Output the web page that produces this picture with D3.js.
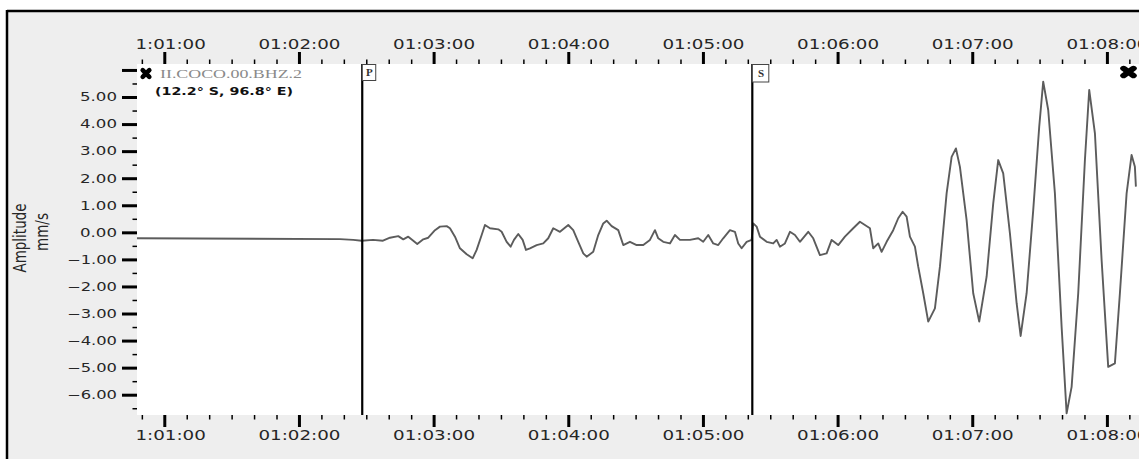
<!DOCTYPE html>
<html>
<head>
<meta charset="utf-8">
<script src="https://cdn.jsdelivr.net/npm/d3@7"></script>
<style>
  html, body { margin: 0; padding: 0; background: #ffffff; }
  svg { display: block; }
</style>
</head>
<body>
<svg id="chart" width="1139" height="459"></svg>
<script>
// ---------- data ----------
// time in seconds after 01:00:00, amplitude in mm/s
const timeSec = [
  47.84, 138.28, 144.2, 147.95, 152.98, 157.44, 160.56, 164.25, 166.48, 168.71,
  170.94, 172.72, 175.39, 177.62, 180.61, 182.83, 185.82, 187.29, 189.52, 191.74,
  194.73, 197.40, 199.18, 201.41, 202.88, 205.11, 208.81, 210.32, 212.55, 214.33,
  215.80, 217.72, 219.68, 221.15, 222.93, 225.91, 228.86, 231.08, 233.31, 236.30,
  240.00, 242.22, 244.45, 246.68, 248.19, 251.13, 253.36, 255.59, 257.10, 259.33,
  262.27, 264.50, 267.48, 270.47, 273.41, 276.39, 278.62, 280.09, 282.32, 285.30,
  287.53, 289.76, 294.21, 297.91, 300.14, 302.37, 304.60, 306.82, 309.05, 312.04,
  314.26, 315.73, 317.25, 319.48, 321.70, 322.42, 323.93, 325.40, 328.39, 331.33,
  332.85, 334.31, 336.54, 338.77, 341.00, 343.22, 346.92, 349.15, 352.13, 355.12,
  357.35, 360.29, 363.27, 366.97, 369.95, 372.18, 374.41, 375.88, 378.11, 379.62,
  381.85, 384.79, 387.02, 388.98, 390.76, 392.23, 394.46, 395.93, 398.16, 400.39,
  403.37, 405.60, 408.58, 410.81, 412.73, 414.51, 417.49, 420.43, 423.11, 426.40,
  429.35, 431.57, 433.80, 436.79, 439.77, 441.56, 444.23, 447.17, 449.84, 451.62,
  453.85, 456.83, 459.82, 462.05, 464.28, 467.22, 470.20, 472.12, 474.66, 477.64,
  480.58, 483.56, 485.79, 488.78, 491.00, 492.47, 492.92
];
const amplitude = [
  -0.22, -0.25, -0.28, -0.31, -0.28, -0.31, -0.20, -0.14, -0.26, -0.16,
  -0.31, -0.43, -0.26, -0.20, 0.08, 0.21, 0.23, 0.15, -0.16, -0.59,
  -0.81, -0.96, -0.65, -0.10, 0.27, 0.15, 0.11, 0.02, -0.35, -0.53,
  -0.28, -0.06, -0.28, -0.65, -0.59, -0.47, -0.41, -0.22, 0.15, 0.02,
  0.27, 0.08, -0.35, -0.78, -0.90, -0.72, -0.10, 0.33, 0.43, 0.23,
  0.08, -0.47, -0.35, -0.47, -0.47, -0.28, 0.08, -0.22, -0.35, -0.41,
  -0.10, -0.28, -0.28, -0.22, -0.35, -0.10, -0.41, -0.47, -0.22, 0.08,
  0.02, -0.41, -0.59, -0.35, -0.28, 0.33, 0.21, -0.16, -0.35, -0.41,
  -0.28, -0.53, -0.41, 0.02, -0.10, -0.35, 0.02, -0.22, -0.84, -0.78,
  -0.28, -0.47, -0.16, 0.15, 0.39, 0.27, 0.15, -0.59, -0.41, -0.72,
  -0.35, 0.08, 0.52, 0.76, 0.58, -0.16, -0.53, -1.27, -2.25, -3.30,
  -2.81, -1.27, 1.44, 2.79, 3.10, 2.42, 0.45, -2.25, -3.30, -1.64,
  1.07, 2.67, 2.18, -0.04, -2.62, -3.83, -2.25, 0.82, 3.90, 5.57,
  4.52, 1.44, -3.49, -6.69, -5.71, -2.25, 2.67, 5.26, 3.66, -1.02,
  -4.97, -4.84, -2.25, 1.44, 2.86, 2.42, 1.69
];
const phaseNames = ["P", "S"];
const phaseTimes = [148.2, 322.0];
const xMajorTicks = [60, 120, 180, 240, 300, 360, 420, 480];
const xTickLabels = ["01:01:00", "01:02:00", "01:03:00", "01:04:00", "01:05:00", "01:06:00", "01:07:00", "01:08:00"];
const yMajorTicks = [-6, -5, -4, -3, -2, -1, 0, 1, 2, 3, 4, 5, 6];
const yTickLabels = ["−6.00", "−5.00", "−4.00", "−3.00", "−2.00", "−1.00", "0.00", "1.00", "2.00", "3.00", "4.00", "5.00", ""];
const stationName = "II.COCO.00.BHZ.2";
const stationCoords = "(12.2° S, 96.8° E)";
const yTitle = ["Amplitude", "mm/s"];

// ---------- layout ----------
const W = 1139, H = 459;
const plot = { left: 137, right: 1139, top: 64, bottom: 415 };
const STRETCH = 1.35;

const svg = d3.select("#chart");

// page background + frame
svg.append("rect").attr("x", 0).attr("y", 0).attr("width", W).attr("height", H).attr("fill", "#ffffff");
svg.append("rect").attr("x", 7).attr("y", 11).attr("width", W - 7).attr("height", H - 11).attr("fill", "#eeeeee");
svg.append("line").attr("x1", 7).attr("x2", W).attr("y1", 11).attr("y2", 11).attr("stroke", "#000").attr("stroke-width", 2.5);
svg.append("line").attr("x1", 7).attr("x2", 7).attr("y1", 10).attr("y2", H).attr("stroke", "#000").attr("stroke-width", 2.5);

// plot area
svg.append("rect").attr("x", plot.left).attr("y", plot.top)
  .attr("width", plot.right - plot.left).attr("height", plot.bottom - plot.top).attr("fill", "#ffffff");

const x = d3.scaleLinear().domain([47.84, 494.3]).range([plot.left, plot.right]);
const y = d3.scaleLinear().domain([-6.75, 6.22]).range([plot.bottom, plot.top]);

const defs = svg.append("defs");
defs.append("clipPath").attr("id", "plotClip").append("rect")
  .attr("x", plot.left).attr("y", plot.top).attr("width", plot.right - plot.left).attr("height", plot.bottom - plot.top);
defs.append("clipPath").attr("id", "xLabClip").append("rect")
  .attr("x", plot.left).attr("y", -1000).attr("width", plot.right - plot.left).attr("height", 2000);

const minorX = d3.range(50, 495, 10).filter(t => t % 60 !== 0);
const minorY = d3.range(-6.5, 6.0, 1);

const labelFor = t => xTickLabels[xMajorTicks.indexOf(t)];

function styleAxis(g, width) {
  g.select(".domain").remove();
  g.selectAll(".tick line").attr("stroke", "#000").attr("stroke-width", width);
}

// top axis
const topMinor = svg.append("g").attr("transform", `translate(0,${plot.top})`)
  .call(d3.axisTop(x).tickValues(minorX).tickSize(4.5).tickFormat(""));
styleAxis(topMinor, 1.5);
const topMajor = svg.append("g").attr("transform", `translate(0,${plot.top})`)
  .call(d3.axisTop(x).tickValues(xMajorTicks).tickSize(12).tickPadding(3).tickFormat(labelFor));
styleAxis(topMajor, 3);

// bottom axis
const botMinor = svg.append("g").attr("transform", `translate(0,${plot.bottom})`)
  .call(d3.axisBottom(x).tickValues(minorX).tickSize(4.5).tickFormat(""));
styleAxis(botMinor, 1.5);
const botMajor = svg.append("g").attr("transform", `translate(0,${plot.bottom})`)
  .call(d3.axisBottom(x).tickValues(xMajorTicks).tickSize(12).tickPadding(3.5).tickFormat(labelFor));
styleAxis(botMajor, 3);

[topMajor, botMajor].forEach(g => {
  g.attr("clip-path", "url(#xLabClip)");
  g.selectAll(".tick text")
    .attr("font-family", "DejaVu Sans").attr("font-size", 13.7).attr("fill", "#262626")
    .attr("textLength", 82).attr("lengthAdjust", "spacingAndGlyphs");
});

// left axis
const leftMinor = svg.append("g").attr("transform", `translate(${plot.left},0)`)
  .call(d3.axisLeft(y).tickValues(minorY).tickSize(4.5).tickFormat(""));
styleAxis(leftMinor, 1.5);
const leftMajor = svg.append("g").attr("transform", `translate(${plot.left},0)`)
  .call(d3.axisLeft(y).tickValues(yMajorTicks).tickSize(15).tickPadding(5)
    .tickFormat(v => yTickLabels[yMajorTicks.indexOf(v)]));
styleAxis(leftMajor, 3);
leftMajor.selectAll(".tick text")
  .attr("font-family", "DejaVu Sans").attr("font-size", 12).attr("fill", "#262626")
  .attr("textLength", function() { const s = d3.select(this).text(); return s ? (s[0] === "−" ? 50 : 37) : null; })
  .attr("lengthAdjust", "spacingAndGlyphs");

// y title
const yt = svg.append("g").attr("font-family", "DejaVu Sans").attr("font-size", 13.5).attr("fill", "#262626");
yt.append("text").attr("transform", `translate(26,238) scale(${STRETCH},1) rotate(-90)`)
  .attr("text-anchor", "middle").text(yTitle[0]);
yt.append("text").attr("transform", `translate(47.5,232) scale(${STRETCH},1) rotate(-90)`)
  .attr("text-anchor", "middle").text(yTitle[1]);

// trace
const pts = timeSec.map((t, i) => [t, amplitude[i]]);
svg.append("g").attr("clip-path", "url(#plotClip)")
  .append("path").datum(pts)
  .attr("d", d3.line().x(d => x(d[0])).y(d => y(d[1])))
  .attr("fill", "none").attr("stroke", "#5c5c5c").attr("stroke-width", 1.9).attr("stroke-linejoin", "round");

// phase markers
phaseNames.forEach((name, i) => {
  const px = x(phaseTimes[i]);
  svg.append("line").attr("x1", px).attr("x2", px).attr("y1", plot.top).attr("y2", plot.bottom)
    .attr("stroke", "#000").attr("stroke-width", 2.2);
  const bw = name === "P" ? 13.5 : 16.5, bh = name === "P" ? 16 : 17.5;
  svg.append("rect").attr("x", px).attr("y", plot.top + 0.5).attr("width", bw).attr("height", bh)
    .attr("fill", "#ffffff").attr("stroke", "#444").attr("stroke-width", 1);
  svg.append("text").attr("x", px + bw / 2 + 0.5).attr("y", plot.top + bh - 4.5)
    .attr("text-anchor", "middle").attr("font-family", "Liberation Serif").attr("font-weight", "bold")
    .attr("font-size", 11).attr("fill", "#333").text(name);
});

// station markers + labels
const marker = d3.symbol().type(d3.symbolTimes);
svg.append("path").attr("transform", "translate(146,73.5)").attr("d", marker.size(30)())
  .attr("fill", "none").attr("stroke", "#000").attr("stroke-width", 4.6).attr("stroke-linecap", "round");
svg.append("path").attr("transform", `translate(1128.5,72) scale(${STRETCH},1)`).attr("d", marker.size(36)())
  .attr("fill", "none").attr("stroke", "#000").attr("stroke-width", 5).attr("stroke-linecap", "round");
svg.append("text").attr("x", 160).attr("y", 78).attr("font-family", "Liberation Serif").attr("font-size", 12.5)
  .attr("fill", "#8a8a8a").attr("textLength", 142).attr("lengthAdjust", "spacingAndGlyphs").text(stationName);
svg.append("text").attr("x", 155).attr("y", 95).attr("font-family", "DejaVu Sans").attr("font-weight", "bold")
  .attr("font-size", 10).attr("fill", "#111").attr("textLength", 138).attr("lengthAdjust", "spacingAndGlyphs").text(stationCoords);
</script>
</body>
</html>
